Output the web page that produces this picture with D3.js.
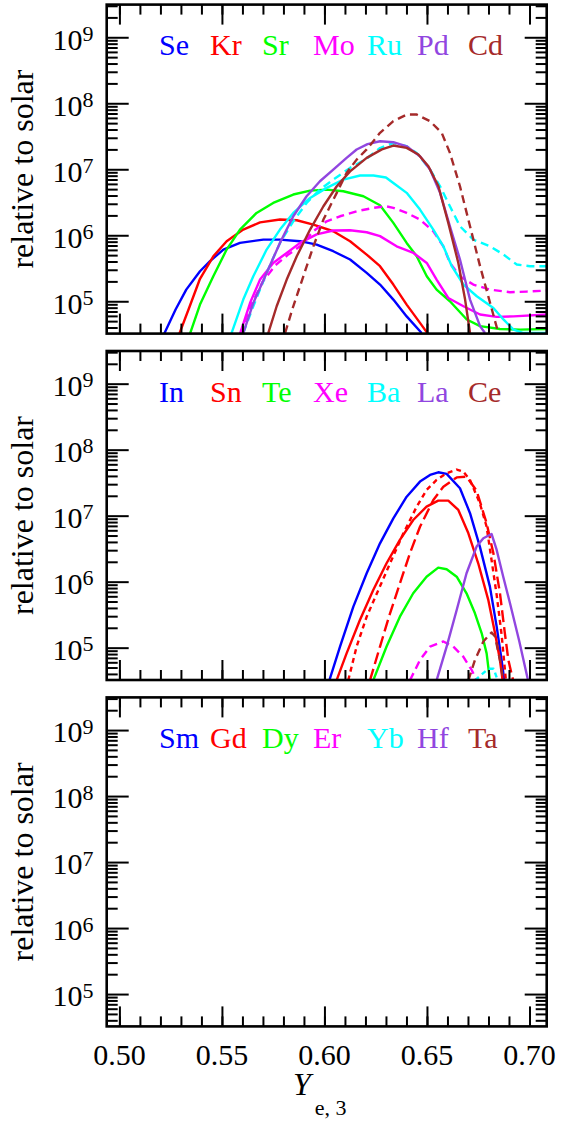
<!DOCTYPE html>
<html><head><meta charset="utf-8">
<script src="https://cdn.jsdelivr.net/npm/d3@7"></script>
<style>
html,body{margin:0;padding:0;background:#fff}
svg text{font-family:"Liberation Serif","Times New Roman",Times,serif}
</style>
</head><body><svg id="c" width="561" height="1121"></svg>
<script>
// ---------- tick labels / categories ----------
const xTickValues = [0.50, 0.55, 0.60, 0.65, 0.70];
const xTickLabels = ["0.50", "0.55", "0.60", "0.65", "0.70"];
const yTickExponents = [5, 6, 7, 8, 9];
const labelsTop = ["Se", "Kr", "Sr", "Mo", "Ru", "Pd", "Cd"];
const labelsMid = ["In", "Sn", "Te", "Xe", "Ba", "La", "Ce"];
const labelsBot = ["Sm", "Gd", "Dy", "Er", "Yb", "Hf", "Ta"];

// ---------- series values: [Ye,3 , abundance relative to solar] ----------
// top panel
const se = [[0.5218,3.2e4],[0.5274,7.5e4],[0.5326,1.5e5],[0.5393,2.85e5],[0.5442,4.05e5],[0.5507,6.07e5],[0.5588,7.66e5],[0.5702,8.6e5],[0.5783,8.6e5],[0.5881,8.13e5],[0.5962,7.23e5],[0.6043,5.73e5],[0.6125,4.29e5],[0.6206,2.69e5],[0.6271,1.79e5],[0.6336,1.06e5],[0.6401,5.9e4],[0.6474,3.3e4]];
const kr = [[0.5292,3.2e4],[0.5343,8.4e4],[0.5393,2.19e5],[0.5458,4.8e5],[0.5523,8.13e5],[0.5604,1.22e6],[0.5686,1.57e6],[0.5783,1.73e6],[0.5865,1.69e6],[0.5946,1.45e6],[0.6043,1.15e6],[0.6125,8.13e5],[0.6206,5.1e5],[0.6271,3.4e5],[0.6336,1.79e5],[0.6401,8.9e4],[0.6466,4.7e4],[0.6505,3.2e4]];
const sr = [[0.5344,3.2e4],[0.5393,8.9e4],[0.5458,2.4e5],[0.5523,6.07e5],[0.5588,1.22e6],[0.5669,2.18e6],[0.5750,3.09e6],[0.5848,4.14e6],[0.5930,4.75e6],[0.6011,4.92e6],[0.6092,4.65e6],[0.6190,3.9e6],[0.6271,2.85e6],[0.6336,1.54e6],[0.6401,7.66e5],[0.6450,4.81e5],[0.6499,2.39e5],[0.6547,1.5e5],[0.6612,1.0e5],[0.6694,5.3e4],[0.6759,4.2e4],[0.6856,3.8e4],[0.6954,3.72e4],[0.7084,3.8e4]];
const mo = [[0.5588,3.2e4],[0.5637,9.4e4],[0.5686,2.13e5],[0.5750,3.81e5],[0.5816,5.4e5],[0.5881,7.66e5],[0.5962,1.03e6],[0.6043,1.18e6],[0.6125,1.19e6],[0.6206,1.11e6],[0.6271,9.7e5],[0.6352,6.8e5],[0.6434,5.4e5],[0.6499,3.81e5],[0.6547,2.13e5],[0.6604,1.12e5],[0.6678,8.4e4],[0.6759,6.3e4],[0.6840,5.8e4],[0.6922,5.9e4],[0.7084,6.3e4]];
const moB = [[0.5590,3.2e4],[0.5640,8.5e4],[0.5700,2.0e5],[0.5760,3.5e5],[0.5820,5.0e5],[0.5881,6.8e5],[0.5946,1.15e6],[0.6011,1.63e6],[0.6076,1.94e6],[0.6157,2.31e6],[0.6239,2.6e6],[0.6300,2.75e6],[0.6336,2.6e6],[0.6401,2.18e6],[0.6466,1.73e6],[0.6531,1.15e6],[0.6580,6.8e5],[0.6612,3.81e5],[0.6661,2.39e5],[0.6726,1.79e5],[0.6808,1.5e5],[0.6905,1.37e5],[0.6986,1.4e5],[0.7084,1.45e5]];
const ru = [[0.5547,3.3e4],[0.5604,1.06e5],[0.5653,2.39e5],[0.5718,6.07e5],[0.5783,1.22e6],[0.5848,2.18e6],[0.5930,3.68e6],[0.6011,5.22e6],[0.6092,6.98e6],[0.6174,8.04e6],[0.6239,8.04e6],[0.6300,7.5e6],[0.6336,6.2e6],[0.6401,4.39e6],[0.6466,2.45e6],[0.6531,1.22e6],[0.6580,6.8e5],[0.6621,3.4e5],[0.6678,1.79e5],[0.6743,1.19e5],[0.6824,7.9e4],[0.6873,5.3e4],[0.6922,3.72e4],[0.6971,3.3e4],[0.7084,3.3e4]];
const ruB = [[0.5604,3.3e4],[0.5653,8.4e4],[0.5718,2.69e5],[0.5783,7.66e5],[0.5848,1.63e6],[0.5913,3.09e6],[0.5978,4.92e6],[0.6043,6.98e6],[0.6125,1.05e7],[0.6206,1.45e7],[0.6271,2.1e7],[0.6336,2.5e7],[0.6401,2.23e7],[0.6450,1.77e7],[0.6515,9.9e6],[0.6564,5.53e6],[0.6612,2.75e6],[0.6661,1.37e6],[0.6726,8.6e5],[0.6808,6.8e5],[0.6873,5.1e5],[0.6938,3.6e5],[0.7003,3.4e5],[0.7084,3.4e5]];
const pd = [[0.5604,3.3e4],[0.5653,9.4e4],[0.5718,2.69e5],[0.5783,7.66e5],[0.5848,1.94e6],[0.5913,3.9e6],[0.5978,6.58e6],[0.6043,9.9e6],[0.6108,1.49e7],[0.6157,1.99e7],[0.6210,2.4e7],[0.6271,2.66e7],[0.6336,2.57e7],[0.6401,2.23e7],[0.6466,1.57e7],[0.6515,9.9e6],[0.6564,4.39e6],[0.6612,1.37e6],[0.6661,4.29e5],[0.6710,1.06e5],[0.6759,4.2e4],[0.6783,3.3e4]];
const cd = [[0.5726,3.3e4],[0.5767,8.4e4],[0.5816,2.13e5],[0.5865,4.81e5],[0.5930,1.22e6],[0.5995,2.75e6],[0.6060,5.53e6],[0.6125,9.3e6],[0.6206,1.49e7],[0.6280,2.0e7],[0.6336,2.29e7],[0.6401,2.11e7],[0.6458,1.67e7],[0.6507,1.11e7],[0.6556,5.53e6],[0.6604,1.54e6],[0.6653,3.81e5],[0.6686,1.06e5],[0.6710,3.3e4]];
const cdB = [[0.5808,3.3e4],[0.5848,8.4e4],[0.5897,2.39e5],[0.5946,6.8e5],[0.5995,1.73e6],[0.6060,4.39e6],[0.6108,8.8e6],[0.6157,1.4e7],[0.6206,2.0e7],[0.6271,3.56e7],[0.6336,5.35e7],[0.6401,6.75e7],[0.6450,6.75e7],[0.6515,5.35e7],[0.6572,3.56e7],[0.6612,1.77e7],[0.6661,5.53e6],[0.6710,1.37e6],[0.6759,3.4e5],[0.6808,9.4e4],[0.6848,3.3e4]];
// middle panel
const inn = [[0.6024,3.2e4],[0.6076,1.04e5],[0.6141,4.19e5],[0.6206,1.34e6],[0.6271,3.81e6],[0.6336,9.1e6],[0.6401,1.94e7],[0.6466,3.28e7],[0.6515,4.14e7],[0.6555,4.54e7],[0.6596,4.29e7],[0.6661,2.6e7],[0.6710,1.09e7],[0.6758,3.4e6],[0.6807,8.4e5],[0.6840,2.08e5],[0.6864,6.5e4],[0.6877,3.2e4]];
const sn = [[0.6059,3.2e4],[0.6108,8.2e4],[0.6173,2.63e5],[0.6238,7.48e5],[0.6303,1.9e6],[0.6368,4.29e6],[0.6433,8.6e6],[0.6498,1.37e7],[0.6555,1.69e7],[0.6604,1.69e7],[0.6653,1.22e7],[0.6702,5.4e6],[0.6750,1.9e6],[0.6799,5.3e5],[0.6832,1.65e5],[0.6856,6.5e4],[0.6869,3.2e4]];
const snB = [[0.6116,3.2e4],[0.6157,1.04e5],[0.6206,2.95e5],[0.6263,7.48e5],[0.6320,1.9e6],[0.6385,5.4e6],[0.6450,1.37e7],[0.6498,2.45e7],[0.6547,3.48e7],[0.6596,4.39e7],[0.6645,5.0e7],[0.6677,4.65e7],[0.6710,3.48e7],[0.6758,1.54e7],[0.6791,6.8e6],[0.6815,2.13e6],[0.6840,6.3e5],[0.6864,1.58e5],[0.6885,3.2e4]];
const snC = [[0.6222,3.2e4],[0.6271,1.04e5],[0.6320,3.32e5],[0.6368,9.4e5],[0.6417,2.69e6],[0.6466,6.8e6],[0.6531,1.73e7],[0.6580,2.75e7],[0.6645,3.8e7],[0.6693,3.9e7],[0.6742,2.4e7],[0.6791,7.66e6],[0.6824,2.69e6],[0.6856,6.7e5],[0.6880,1.65e5],[0.6897,6.5e4],[0.6920,3.2e4]];
const te = [[0.6238,3.2e4],[0.6303,1.04e5],[0.6368,2.95e5],[0.6433,6.67e5],[0.6498,1.19e6],[0.6555,1.63e6],[0.6596,1.54e6],[0.6645,1.19e6],[0.6693,6.67e5],[0.6734,3.32e5],[0.6767,1.65e5],[0.6791,8.2e4],[0.6807,3.2e4]];
const xe = [[0.6417,3.2e4],[0.6466,6.5e4],[0.6515,1.04e5],[0.6580,1.24e5],[0.6628,1.04e5],[0.6677,7.3e4],[0.6718,4.6e4],[0.6742,3.2e4]];
const ba = [[0.6735,3.2e4],[0.6770,4.0e4],[0.6800,4.8e4],[0.6825,4.8e4],[0.6845,3.2e4]];
const la = [[0.6547,3.2e4],[0.6596,1.04e5],[0.6645,3.72e5],[0.6693,1.34e6],[0.6742,3.4e6],[0.6775,4.54e6],[0.6815,5.28e6],[0.6840,3.02e6],[0.6872,1.19e6],[0.6905,4.7e5],[0.6950,1.26e5],[0.6993,3.2e4]];
const ce = [[0.6702,3.2e4],[0.6734,6.5e4],[0.6775,1.24e5],[0.6815,1.7e5],[0.6832,1.48e5],[0.6856,6.5e4],[0.6872,3.2e4]];

// ---------- styles ----------
const palette = ["#0000ff", "#ff0000", "#00ff00", "#ff00ff", "#00ffff", "#9146e0", "#a52a2a"];
const dashStyles = { solid: null, dash: "8,5", short: "5,4", long: "12,5" };

const panelSeries = [
  [ {d: se, c: 0, s: "solid"}, {d: kr, c: 1, s: "solid"}, {d: sr, c: 2, s: "solid"},
    {d: mo, c: 3, s: "solid"}, {d: moB, c: 3, s: "dash"}, {d: ru, c: 4, s: "solid"},
    {d: ruB, c: 4, s: "dash"}, {d: pd, c: 5, s: "solid"}, {d: cd, c: 6, s: "solid"},
    {d: cdB, c: 6, s: "dash"} ],
  [ {d: inn, c: 0, s: "solid"}, {d: sn, c: 1, s: "solid"}, {d: snB, c: 1, s: "short"},
    {d: snC, c: 1, s: "long"}, {d: te, c: 2, s: "solid"}, {d: xe, c: 3, s: "dash"},
    {d: ba, c: 4, s: "short"}, {d: la, c: 5, s: "solid"}, {d: ce, c: 6, s: "dash"} ],
  []
];
const panelLabels = [labelsTop, labelsMid, labelsBot];

// ---------- layout ----------
const svg = d3.select("#c");
svg.append("rect").attr("width", 561).attr("height", 1121).attr("fill", "#fff");
const xL = 106.7, xR = 546.7, PH = 329;
const tops = [4.6, 351, 697.4];
const labelX = [159, 210, 262, 313, 367, 417, 468];
const x = d3.scaleLinear().domain([0.4938, 0.7084]).range([xL, xR]);
const xMinor = d3.range(50, 71).map(v => v / 100);

const yMinor = [];
for (let n = 4; n <= 9; n++) for (let k = 2; k <= 9; k++) {
  const v = k * Math.pow(10, n);
  if (v > 3.3e4 && v < 3.1e9) yMinor.push(v);
}

tops.forEach((top, pi) => {
  const y = d3.scaleLog().domain([Math.pow(10, 4.51), Math.pow(10, 9.495)]).range([top + PH, top]);
  const g = svg.append("g");
  const clipId = "clip" + pi;
  svg.append("clipPath").attr("id", clipId).append("rect")
    .attr("x", xL).attr("y", top).attr("width", xR - xL).attr("height", PH);

  // series
  const line = d3.line().x(d => x(d[0])).y(d => y(d[1]));
  const lg = g.append("g").attr("clip-path", `url(#${clipId})`);
  panelSeries[pi].forEach(s => {
    lg.append("path").datum(s.d).attr("d", line)
      .attr("fill", "none").attr("stroke", palette[s.c]).attr("stroke-width", 2.4)
      .attr("stroke-linejoin", "round")
      .attr("stroke-dasharray", dashStyles[s.s]);
  });

  // axes (ticks inward)
  const tickStyle = sel => {
    sel.select(".domain").remove();
    sel.selectAll(".tick line").attr("stroke", "#000").attr("stroke-width", 2);
    sel.selectAll(".tick text").remove();
  };
  const majY = yTickExponents.map(e => Math.pow(10, e));
  g.append("g").attr("transform", `translate(${xL},0)`)
    .call(d3.axisLeft(y).tickValues(majY).tickSize(-22).tickFormat("")).call(tickStyle);
  g.append("g").attr("transform", `translate(${xL},0)`)
    .call(d3.axisLeft(y).tickValues(yMinor).tickSize(-11).tickFormat("")).call(tickStyle);
  g.append("g").attr("transform", `translate(${xR},0)`)
    .call(d3.axisRight(y).tickValues(majY).tickSize(-22).tickFormat("")).call(tickStyle);
  g.append("g").attr("transform", `translate(${xR},0)`)
    .call(d3.axisRight(y).tickValues(yMinor).tickSize(-11).tickFormat("")).call(tickStyle);
  g.append("g").attr("transform", `translate(0,${top})`)
    .call(d3.axisTop(x).tickValues(xTickValues).tickSize(-20).tickFormat("")).call(tickStyle);
  g.append("g").attr("transform", `translate(0,${top})`)
    .call(d3.axisTop(x).tickValues(xMinor).tickSize(-10).tickFormat("")).call(tickStyle);
  g.append("g").attr("transform", `translate(0,${top + PH})`)
    .call(d3.axisBottom(x).tickValues(xTickValues).tickSize(-20).tickFormat("")).call(tickStyle);
  g.append("g").attr("transform", `translate(0,${top + PH})`)
    .call(d3.axisBottom(x).tickValues(xMinor).tickSize(-10).tickFormat("")).call(tickStyle);

  // frame
  g.append("rect").attr("x", xL).attr("y", top).attr("width", xR - xL).attr("height", PH)
    .attr("fill", "none").attr("stroke", "#000").attr("stroke-width", 2.6);

  // y tick labels 10^n
  yTickExponents.forEach(e => {
    const t = g.append("text").attr("x", 93.5).attr("y", y(Math.pow(10, e)) + 12.3)
      .attr("text-anchor", "end").style("font-size", "30px").attr("fill", "#000");
    t.append("tspan").text("10");
    t.append("tspan").attr("dy", -8.5).style("font-size", "22px").text(String(e));
  });

  // y axis title
  g.append("text").attr("transform", `translate(33,${top + PH / 2}) rotate(-90)`)
    .attr("text-anchor", "middle").style("font-size", "32px")
    .attr("fill", "#000").text("relative to solar");

  // element labels
  panelLabels[pi].forEach((lab, i) => {
    g.append("text").attr("x", labelX[i]).attr("y", top + 50.8)
      .style("font-size", "30px").attr("fill", palette[i]).text(lab);
  });

  // x tick labels on bottom panel
  if (pi === 2) {
    xTickValues.forEach((v, i) => {
      g.append("text").attr("x", x(v)).attr("y", 1065).attr("text-anchor", "middle")
        .style("font-size", "30px").attr("fill", "#000").text(xTickLabels[i]);
    });
    const xt = g.append("text").attr("x", 293).attr("y", 1095).attr("fill", "#000");
    xt.append("tspan").style("font-style", "italic").style("font-size", "32px").text("Y");
    xt.append("tspan").attr("dx", 4).attr("dy", 20).style("font-size", "22px").text("e, 3");
  }
});
</script></body></html>
